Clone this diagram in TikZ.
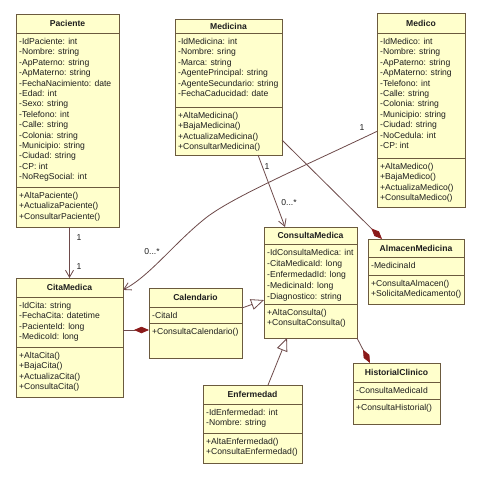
\documentclass[tikz,border=0pt]{standalone}
\usepackage{fontspec}
\setmainfont{Liberation Sans}
\usetikzlibrary{arrows.meta,calc}
\definecolor{boxfill}{HTML}{FFFFCC}
\definecolor{boxline}{HTML}{6B5A3E}
\definecolor{conn}{HTML}{6E4A4A}
\definecolor{dred}{HTML}{8B1A1A}
\definecolor{txtc}{HTML}{1E1E1E}
\newcommand\attrfont{\fontsize{8.6}{10.4}\selectfont}
\newcommand\attrfontw{\fontsize{8.6}{11}\selectfont}
\newcommand\umlbox[7]{%
  \node[classbox, minimum width={#4-#2}, minimum height={#5-#3}, anchor=north west] (#1) at (#2,#3) {};
  \draw[sepline] (#2,#6) -- (#4,#6) (#2,#7) -- (#4,#7);
  \coordinate (#1-tb) at ({(#2+#4)/2},{(#3+#6)/2});
  \coordinate (#1-a) at ({#2+3},{#6+11.3});
  \coordinate (#1-m) at ({#2+3},{#7+11.3});
}
\tikzset{
  classbox/.style={draw=boxline, fill=boxfill, line width=0.8pt, inner sep=0pt, outer sep=0pt},
  sepline/.style={draw=boxline, line width=0.8pt},
  ttl/.style={inner sep=0pt, anchor=center, text=txtc, font=\fontsize{8.6}{10}\selectfont\bfseries},
  attr/.style={inner sep=0pt, anchor=north west, align=left, text=txtc, font=\attrfont, yshift=7.28pt},
  attrw/.style={inner sep=0pt, anchor=north west, align=left, text=txtc, font=\attrfontw, yshift=7.7pt},
  lbl/.style={inner sep=0pt, text=txtc, font=\fontsize{8.6}{10}\selectfont},
  conn/.style={draw=conn, line width=0.8pt},
  vee/.style={-{Straight Barb[length=7pt,width=8pt]}},
  gen/.style={-{Triangle[length=13pt,width=11pt,fill=white]}},
  comp/.style={-{Diamond[length=15pt,width=6.5pt,fill=dred,color=dred]}}
}
\begin{document}
\begin{tikzpicture}[x=1pt,y=-1pt]
\fill[white] (0,0) rectangle (480,480);
\useasboundingbox (0,0) rectangle (480,480);

% Paciente
\umlbox{pac}{16}{14}{119}{227}{33}{187}
\node[ttl] (pac-t) at (pac-tb) {Paciente};
\node[attr] (pac-at) at (pac-a) {\strut-IdPaciente: int\\-Nombre: string\\-ApPaterno: string\\-ApMaterno: string\\-FechaNacimiento: date\\-Edad: int\\-Sexo: string\\-Telefono: int\\-Calle: string\\-Colonia: string\\-Municipio: string\\-Ciudad: string\\-CP: int\\-NoRegSocial: int};
\node[attr] (pac-me) at (pac-m) {\strut+AltaPaciente()\\+ActualizaPaciente()\\+ConsultarPaciente()};

% Medicina
\umlbox{med}{175}{19}{282}{155}{33}{107}
\node[ttl] (med-t) at (med-tb) {Medicina};
\node[attr] (med-at) at (med-a) {\strut-IdMedicina: int\\-Nombre: sring\\-Marca: string\\-AgentePrincipal: string\\-AgenteSecundario: string\\-FechaCaducidad: date};
\node[attr] (med-me) at (med-m) {\strut+AltaMedicina()\\+BajaMedicina()\\+ActualizaMedicina()\\+ConsultarMedicina()};

% Medico
\umlbox{medico}{377}{13}{465}{207}{33}{158}
\node[ttl] (medico-t) at (medico-tb) {Medico};
\node[attr] (medico-at) at (medico-a) {\strut-IdMedico: int\\-Nombre: string\\-ApPaterno: string\\-ApMaterno: string\\-Telefono: int\\-Calle: string\\-Colonia: string\\-Municipio: string\\-Ciudad: string\\-NoCedula: int\\-CP: int};
\node[attr] (medico-me) at (medico-m) {\strut+AltaMedico()\\+BajaMedico()\\+ActualizaMedico()\\+ConsultaMedico()};

% CitaMedica
\umlbox{cita}{16}{278}{123}{397}{297}{347}
\node[ttl] (cita-t) at (cita-tb) {CitaMedica};
\node[attr] (cita-at) at (cita-a) {\strut-IdCita: string\\-FechaCita: datetime\\-PacienteId: long\\-MedicoId: long};
\node[attr] (cita-me) at (cita-m) {\strut+AltaCita()\\+BajaCita()\\+ActualizaCita()\\+ConsultaCita()};

% Calendario
\umlbox{cal}{149}{288}{242}{358}{307}{323}
\node[ttl] (cal-t) at (cal-tb) {Calendario};
\node[attr] (cal-at) at (cal-a) {\strut-CitaId};
\node[attr] (cal-me) at (cal-m) {\strut+ConsultaCalendario()};

% ConsultaMedica
\umlbox{cons}{264}{227}{357}{338}{244}{304}
\node[ttl] (cons-t) at (cons-tb) {ConsultaMedica};
\node[attrw] (cons-at) at (cons-a) {\strut-IdConsultaMedica: int\\-CitaMedicaId: long\\-EnfermedadId: long\\-MedicinaId: long\\-Diagnostico: string};
\node[attr] (cons-me) at (cons-m) {\strut+AltaConsulta()\\+ConsultaConsulta()};

% AlmacenMedicina
\umlbox{alm}{368}{239}{464}{304}{257}{275}
\node[ttl] (alm-t) at (alm-tb) {AlmacenMedicina};
\node[attr] (alm-at) at (alm-a) {\strut-MedicinaId};
\node[attr] (alm-me) at (alm-m) {\strut+ConsultaAlmacen()\\+SolicitaMedicamento()};

% HistorialClinico
\umlbox{hist}{353}{363}{440}{424}{382}{399}
\node[ttl] (hist-t) at (hist-tb) {HistorialClinico};
\node[attr] (hist-at) at (hist-a) {\strut-ConsultaMedicaId};
\node[attr] (hist-me) at (hist-m) {\strut+ConsultaHistorial()};

% Enfermedad
\umlbox{enf}{203}{385}{302}{463}{404}{433}
\node[ttl] (enf-t) at (enf-tb) {Enfermedad};
\node[attr] (enf-at) at (enf-a) {\strut-IdEnfermedad: int\\-Nombre: string};
\node[attr] (enf-me) at (enf-m) {\strut+AltaEnfermedad()\\+ConsultaEnfermedad()};

% Connectors
\draw[conn, vee] (pac.south -| cita.north) -- (cita.north);
\node[lbl] (l-pc1) at (79,238) {1};
\node[lbl] (l-pc2) at (79,267) {1};

\coordinate (mA) at ($(medico.north west)!0.61!(medico.south west)$);
\coordinate (mB) at ($(cita.north east)!0.1!(cita.south east)$);
\draw[conn, vee] (mA) .. controls (300,168) and (235,196) .. (207,217) .. controls (175,242) and (150,276) .. (mB);
\node[lbl] (l-mc1) at (362,128) {1};
\node[lbl] (l-mc2) at (152,252) {0...*};

\coordinate (mdA) at ($(med.south west)!0.776!(med.south east)$);
\coordinate (mdB) at ($(cons.north west)!0.226!(cons.north east)$);
\draw[conn, vee] (mdA) -- (mdB);
\node[lbl] (l-mm1) at (267,167) {1};
\node[lbl] (l-mm2) at (289,203) {0...*};

\coordinate (maA) at ($(med.north east)!0.89!(med.south east)$);
\coordinate (maB) at ($(alm.north west)!0.146!(alm.north east)$);
\draw[conn, comp] (maA) -- (maB);

\coordinate (ccB) at ($(cal.north west)!0.6!(cal.south west)$);
\draw[conn, comp] (ccB -| cita.east) -- (ccB);

\coordinate (gA) at ($(cal.north east)!0.286!(cal.south east)$);
\coordinate (gB) at ($(cons.north west)!0.658!(cons.south west)$);
\draw[conn, gen] (gA) -- (gB);

\coordinate (eA) at ($(enf.north west)!0.657!(enf.north east)$);
\coordinate (eB) at ($(cons.south west)!0.247!(cons.south east)$);
\draw[conn, gen] (eA) -- (eB);

\coordinate (hB) at ($(hist.north west)!0.195!(hist.north east)$);
\draw[conn, comp] (cons.south east) -- (hB);
\end{tikzpicture}
\end{document}
